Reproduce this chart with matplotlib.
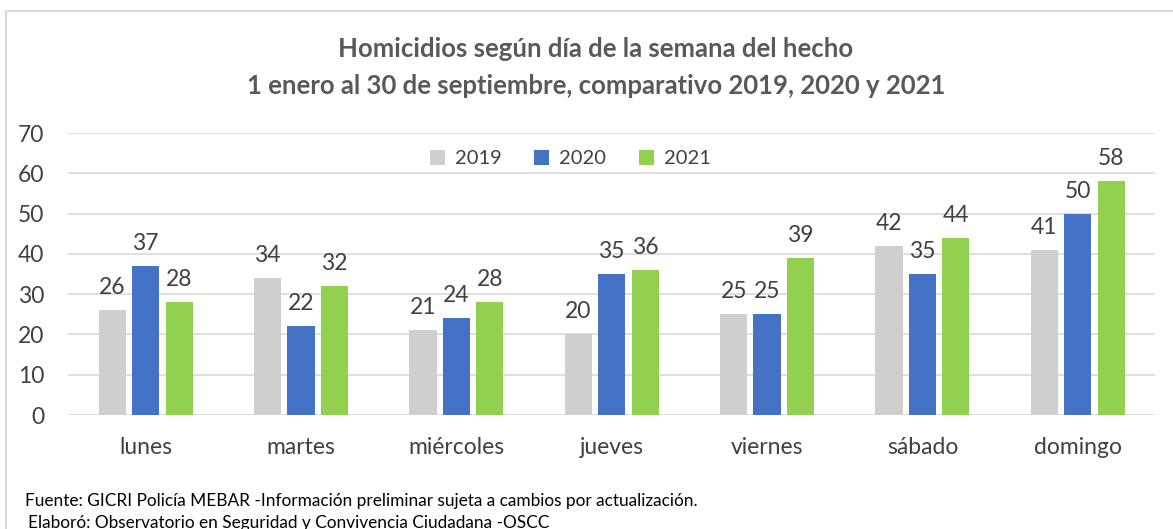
import matplotlib.pyplot as plt
import numpy as np
from matplotlib.patches import Rectangle

days = ['lunes', 'martes', 'miércoles', 'jueves', 'viernes', 'sábado', 'domingo']
years = ['2019', '2020', '2021']
v2019 = [26, 34, 21, 20, 25, 42, 41]
v2020 = [37, 22, 24, 35, 25, 35, 50]
v2021 = [28, 32, 28, 36, 39, 44, 58]
yticks = [0, 10, 20, 30, 40, 50, 60, 70]

COLORS = ['#D0CECE', '#4472C4', '#92D050']
TXT = '#404040'

plt.rcParams['font.family'] = ['Lato', 'DejaVu Sans']

fig = plt.figure(figsize=(11.73, 5.29), dpi=100)
ax = fig.add_axes([0.058, 0.2155, 0.927, 0.533])

x = np.arange(len(days))
width = 0.175
step = 0.215
for i, (vals, year) in enumerate(zip([v2019, v2020, v2021], years)):
    pos = x + (i - 1) * step
    ax.bar(pos, vals, width, color=COLORS[i], label=year, zorder=3)
    for p, v in zip(pos, vals):
        ax.text(p, v + 3.0, str(v), ha='center', va='bottom', fontsize=16.5, color=TXT)

ax.set_xlim(-0.5, len(days) - 0.5)
ax.set_ylim(0, 70)
ax.set_yticks(yticks)
ax.set_xticks(x)
ax.set_xticklabels(days)
ax.tick_params(axis='both', length=0, labelsize=16.5, labelcolor=TXT)
ax.tick_params(axis='y', pad=17)
ax.tick_params(axis='x', pad=16)
ax.grid(axis='y', color='#D9D9D9', linewidth=1.2, zorder=0)
for s in ax.spines.values():
    s.set_visible(False)

ax.legend(loc='upper center', bbox_to_anchor=(0.462, 1.005), ncol=3, frameon=False,
          fontsize=14.5, handlelength=0.75, handleheight=0.75, handletextpad=0.5,
          columnspacing=1.6, labelcolor=TXT)

fig.text(0.508, 0.908, 'Homicidios según día de la semana del hecho', ha='center', va='center',
         fontsize=18.5, fontweight='bold', color='#595959')
fig.text(0.508, 0.838, '1 enero al 30 de septiembre, comparativo 2019, 2020 y 2021', ha='center',
         va='center', fontsize=18.5, fontweight='bold', color='#595959')

fig.text(0.021, 0.053, 'Fuente: GICRI Policía MEBAR -Información preliminar sujeta a cambios por actualización.',
         ha='left', va='center', fontsize=12.4, color='black')
fig.text(0.024, 0.012, 'Elaboró: Observatorio en Seguridad y Convivencia Ciudadana -OSCC',
         ha='left', va='center', fontsize=12.4, color='black')

fig.patches.append(Rectangle((0.005, -0.05), 1.1, 1.029, transform=fig.transFigure,
                             fill=False, edgecolor='#D9D9D9', linewidth=1.5))

fig.savefig('out.png', dpi=100)
